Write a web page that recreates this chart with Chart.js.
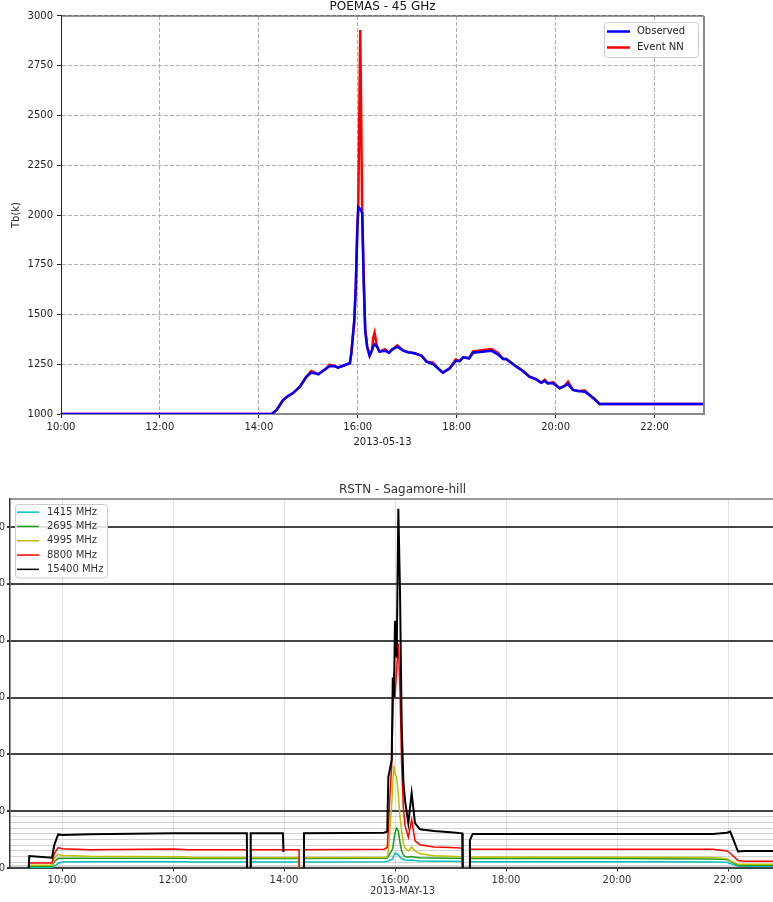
<!DOCTYPE html>
<html>
<head>
<meta charset="utf-8">
<script src="https://cdn.jsdelivr.net/npm/chart.js@4.4.0/dist/chart.umd.min.js"></script>
<style>
    html, body { margin: 0; padding: 0; background: #fff; overflow: hidden; width: 773px; height: 902px; }
    #poemas { position: absolute; left: 0; top: 0; }
    #rstn { position: absolute; left: -50px; top: 470px; }
</style>
</head>
<body>
<canvas id="poemas" width="773" height="460"></canvas>
<canvas id="rstn" width="895" height="432"></canvas>
<script>
/** DATOS POEMAS - 45 GHz (hora decimal, Tb en K) */
const poemasHoras = [10.00, 14.26, 14.36, 14.49, 14.59, 14.69, 14.83, 14.96, 15.06, 15.20, 15.37, 15.43, 15.54, 15.60,
    15.84, 15.87, 15.93, 15.96, 15.99, 16.01, 16.05, 16.09, 16.12, 16.15, 16.19, 16.24, 16.29, 16.31, 16.34, 16.39,
    16.44, 16.55, 16.63, 16.70, 16.80, 16.92, 17.02, 17.15, 17.29, 17.39, 17.52, 17.62, 17.72, 17.86, 17.98, 18.06,
    18.13, 18.25, 18.33, 18.70, 18.83, 18.94, 19.00, 19.21, 19.34, 19.47, 19.61, 19.71, 19.78, 19.84, 19.95, 20.08,
    20.18, 20.25, 20.35, 20.45, 20.59, 20.69, 20.79, 20.89, 23.00];
const observado = [1000, 1000, 1020, 1070, 1090, 1105, 1137, 1187, 1208, 1200, 1230, 1241, 1240, 1233,
    1255, 1306, 1472, 1640, 1925, 2040, 2030, 2010, 1673, 1422, 1338, 1293, 1322, 1340, 1350, 1338,
    1313, 1318, 1308, 1325, 1338, 1318, 1310, 1305, 1293, 1263, 1251, 1230, 1208, 1230, 1266, 1266,
    1285, 1280, 1308, 1318, 1300, 1276, 1276, 1238, 1216, 1188, 1174, 1157, 1166, 1154, 1154, 1129,
    1141, 1150, 1121, 1116, 1112, 1095, 1074, 1050, 1050];
const eventoNN = [1000, 1000, 1020, 1070, 1090, 1105, 1137, 1187, 1216, 1200, 1230, 1248, 1240, 1233,
    1255, 1306, 1472, 1640, 1925, 2040, 2930, 2010, 1673, 1422, 1338, 1293, 1322, 1380, 1409, 1338,
    1313, 1326, 1308, 1325, 1345, 1318, 1310, 1305, 1293, 1263, 1259, 1230, 1208, 1230, 1274, 1266,
    1285, 1280, 1314, 1326, 1308, 1276, 1276, 1238, 1216, 1188, 1174, 1157, 1172, 1154, 1160, 1129,
    1141, 1162, 1121, 1116, 1118, 1095, 1074, 1050, 1050];
const poemasTicksHora = [10, 12, 14, 16, 18, 20, 22];

/** DATOS RSTN - Sagamore-hill (hora decimal, flujo) */
const rstnHoras = [9.40, 9.41, 9.82, 9.86, 9.93, 10.00, 10.50, 12.00, 12.27, 12.28, 13.33, 13.335, 13.36, 13.39,
    13.40, 13.98, 13.99, 14.01, 14.27, 14.275, 14.31, 14.35, 14.36, 15.80, 15.86, 15.88, 15.91, 15.94, 15.96,
    15.98, 16.00, 16.03, 16.06, 16.09, 16.12, 16.15, 16.18, 16.24, 16.30, 16.36, 16.45, 16.70, 17.00, 17.21,
    17.22, 17.28, 17.34, 17.35, 17.40, 20.00, 21.73, 21.98, 22.04, 22.18, 22.30, 23.30];
const mhz1415 = [0, 10, 10, 30, 80, 105, 110, 110, 110, 105, 105, 0, null, 0,
    105, 105, 105, 105, 105, 0, null, 0, 105, 110, 120, 125, 140, 150, 170,
    220, 260, 250, 230, 190, 170, 150, 140, 135, 140, 130, 125, 120, 120, 115,
    0, null, 0, 110, 110, 110, 105, 100, 80, 35, 30, 30];
const mhz2695 = [0, 30, 30, 110, 170, 170, 170, 170, 170, 165, 165, 0, null, 0,
    165, 165, 165, 165, 165, 0, null, 0, 165, 170, 175, 200, 260, 300, 350,
    500, 620, 700, 650, 450, 300, 230, 200, 190, 200, 190, 180, 175, 170, 170,
    0, null, 0, 165, 165, 165, 160, 150, 120, 50, 50, 50];
const mhz4995 = [0, 50, 50, 170, 240, 220, 205, 200, 200, 185, 185, 0, null, 0,
    185, 185, 185, 185, 185, 0, null, 0, 185, 185, 195, 300, 700, 1100, 1500,
    1800, 1650, 1600, 1300, 900, 650, 450, 350, 300, 370, 300, 250, 215, 205, 200,
    0, null, 0, 195, 195, 190, 185, 165, 130, 65, 65, 65];
const mhz8800 = [0, 90, 90, 250, 360, 340, 320, 335, 320, 320, 320, 0, null, 0,
    320, 320, 320, 320, 320, 0, null, 0, 320, 330, 360, 700, 1300, 1800, 2650,
    3440, 3000, 3500, 3950, 3100, 1800, 1070, 750, 540, 850, 480, 410, 370, 360, 350,
    0, null, 0, 330, 330, 330, 330, 300, 260, 130, 120, 120];
const mhz15400 = [0, 210, 180, 400, 590, 580, 595, 610, 610, 610, 610, 0, null, 0,
    610, 610, 280, null, null, null, null, 0, 610, 620, 640, 1600, 1750, 1900, 3350,
    3000, 4350, 3700, 6320, 4880, 2540, 1540, 1190, 790, 1320, 790, 680, 650, 630, 610,
    0, null, 0, 490, 600, 600, 600, 620, 640, 290, 300, 300];
const rstnTicksHora = [10, 12, 14, 16, 18, 20, 22];
const rstnTicksY = [0, 15, 30, 50, 100, 200, 300, 400, 500, 600, 700, 800, 900, 1000, 2000, 3000, 4000, 5000, 6000];

const hh = v => String(v).padStart(2, '0') + ':00';
const puntos = (xs, ys) => xs.map((x, i) => ({x: x, y: ys[i]}));
const esMayor = c => c.tick && c.tick.value % 1000 === 0;

/** Plugin: bordes superior y derecho del área */
const marco = {
    id: 'marco',
    afterDatasetsDraw(chart, args, opts) {
        const {ctx, chartArea: a} = chart;
        ctx.save();
        if (opts.arriba) {
            ctx.strokeStyle = opts.arriba[0];
            ctx.lineWidth = opts.arriba[1];
            ctx.beginPath(); ctx.moveTo(a.left, a.top); ctx.lineTo(a.right, a.top); ctx.stroke();
        }
        if (opts.derecha) {
            ctx.strokeStyle = opts.derecha[0];
            ctx.lineWidth = opts.derecha[1];
            ctx.beginPath(); ctx.moveTo(a.right, a.top); ctx.lineTo(a.right, a.bottom + 1); ctx.stroke();
        }
        ctx.restore();
    }
};

/** Plugin: leyenda con caja dentro del área */
const leyendaCaja = {
    id: 'leyendaCaja',
    afterDraw(chart, args, o) {
        const {ctx, chartArea: a} = chart;
        const sets = chart.data.datasets;
        const x = o.lado === 'derecha' ? a.right - o.margen - o.ancho : a.left + o.margen;
        const y = a.top + o.margen;
        const alto = o.relleno * 2 + sets.length * o.fila;
        ctx.save();
        ctx.fillStyle = 'rgba(255,255,255,0.85)';
        ctx.strokeStyle = '#cccccc';
        ctx.lineWidth = 1;
        ctx.beginPath();
        ctx.roundRect(x + 0.5, y + 0.5, o.ancho, alto, 3);
        ctx.fill();
        ctx.stroke();
        ctx.font = '10px "DejaVu Sans"';
        ctx.textBaseline = 'middle';
        sets.forEach((ds, i) => {
            const cy = y + o.relleno + o.fila * (i + 0.5);
            ctx.strokeStyle = ds.borderColor;
            ctx.lineWidth = o.grosor || ds.borderWidth;
            ctx.beginPath();
            ctx.moveTo(x + o.inicio, cy);
            ctx.lineTo(x + o.inicio + o.linea, cy);
            ctx.stroke();
            ctx.fillStyle = o.colorTexto;
            ctx.fillText(ds.label, x + o.texto, cy);
        });
        ctx.restore();
    }
};

/** GRÁFICA SUPERIOR: POEMAS */
new Chart(document.getElementById('poemas'), {
    type: 'line',
    data: {
        datasets: [{
            label: 'Observed',
            data: puntos(poemasHoras, observado),
            borderColor: '#0000ff',
            borderWidth: 2.5,
            pointRadius: 0,
            tension: 0
        },
        {
            label: 'Event NN',
            data: puntos(poemasHoras, eventoNN),
            borderColor: '#ff0000',
            borderWidth: 2.5,
            pointRadius: 0,
            tension: 0
        }]
    },
    options: {
        responsive: false,
        animation: false,
        layout: { padding: { left: 0, right: 69, top: 0, bottom: 0 } },
        plugins: {
            legend: { display: false },
            tooltip: { enabled: false },
            title: {
                display: true,
                text: 'POEMAS - 45 GHz',
                color: '#111',
                fullSize: false,
                font: { family: '"DejaVu Sans"', size: 12, weight: 'normal' },
                padding: { top: 0, bottom: 1.6 }
            },
            marco: { arriba: ['#333', 1], derecha: ['#888', 2] },
            leyendaCaja: { lado: 'derecha', margen: 6, ancho: 94, relleno: 1.5, fila: 16,
                inicio: 3, linea: 23, texto: 33, grosor: 2.5, colorTexto: '#222' }
        },
        scales: {
            x: {
                type: 'linear',
                min: 10,
                max: 23,
                afterBuildTicks: s => { s.ticks = poemasTicksHora.map(v => ({value: v})); },
                afterFit: s => { s.height = 46; },
                ticks: { callback: v => hh(v), color: '#222', padding: 3, maxRotation: 0, autoSkip: false,
                    font: { family: '"DejaVu Sans"', size: 10 } },
                grid: { color: '#b0b0b0', lineWidth: 1, tickLength: 4, tickColor: '#222' },
                border: { color: '#888', width: 2, dash: [4, 2] },
                title: { display: true, text: '2013-05-13', color: '#222',
                    font: { family: '"DejaVu Sans"', size: 10 }, padding: { top: 0, bottom: 12 } }
            },
            y: {
                min: 1000,
                max: 3000,
                afterFit: s => { s.width = 61; },
                ticks: { stepSize: 250, color: '#222', padding: 4, callback: v => String(v),
                    font: { family: '"DejaVu Sans"', size: 10 } },
                grid: { color: '#b0b0b0', lineWidth: 1, tickLength: 4, tickColor: '#222' },
                border: { color: '#222', width: 1, dash: [4, 2] },
                title: { display: true, text: 'Tb(k)', color: '#222',
                    font: { family: '"DejaVu Sans"', size: 10 }, padding: { top: 10, bottom: 0 } }
            }
        }
    },
    plugins: [marco, leyendaCaja]
});

/** GRÁFICA INFERIOR: RSTN */
const rstnSeries = [
    ['1415 MHz', mhz1415, '#00bfbf', 1.5],
    ['2695 MHz', mhz2695, '#1a9a1a', 1.5],
    ['4995 MHz', mhz4995, '#bfbf00', 1.5],
    ['8800 MHz', mhz8800, '#ff0000', 1.5],
    ['15400 MHz', mhz15400, '#000000', 2]
];

new Chart(document.getElementById('rstn'), {
    type: 'line',
    data: {
        datasets: rstnSeries.map((s, i) => ({
            label: s[0],
            data: puntos(rstnHoras, s[1]),
            borderColor: s[2],
            borderWidth: s[3],
            pointRadius: 0,
            tension: 0,
            spanGaps: false,
            order: rstnSeries.length - i
        }))
    },
    options: {
        responsive: false,
        animation: false,
        layout: { padding: { left: 0, right: 50, top: 0, bottom: 0 } },
        plugins: {
            legend: { display: false },
            tooltip: { enabled: false },
            title: {
                display: true,
                text: 'RSTN - Sagamore-hill',
                color: '#333',
                fullSize: false,
                font: { family: '"DejaVu Sans"', size: 12, weight: 'normal' },
                padding: { top: 12.8, bottom: 1.8 }
            },
            marco: { arriba: ['#777', 1.5] },
            leyendaCaja: { lado: 'izquierda', margen: 5, ancho: 92, relleno: 1, fila: 14.3,
                inicio: 2, linea: 22, texto: 32, grosor: 1.5, colorTexto: '#333' }
        },
        scales: {
            x: {
                type: 'linear',
                min: 9.063,
                max: 23.207,
                afterBuildTicks: s => { s.ticks = rstnTicksHora.map(v => ({value: v})); },
                afterFit: s => { s.height = 34; },
                ticks: { callback: v => hh(v), color: '#333', padding: 2.5, maxRotation: 0, autoSkip: false,
                    font: { family: '"DejaVu Sans"', size: 10 } },
                grid: { color: '#e2e2e2', lineWidth: 1, tickLength: 3.5, tickColor: '#333' },
                border: { color: '#444', width: 2 },
                title: { display: true, text: '2013-MAY-13', color: '#333',
                    font: { family: '"DejaVu Sans"', size: 10 }, padding: { top: 0, bottom: 5 } }
            },
            y: {
                min: 0,
                max: 6493,
                afterBuildTicks: s => { s.ticks = rstnTicksY.map(v => ({value: v})); },
                afterFit: s => { s.width = 60; },
                ticks: { callback: v => (v % 1000 === 0 ? String(v) : ''), color: '#333', padding: 2, autoSkip: false,
                    font: { family: '"DejaVu Sans"', size: 10 } },
                grid: {
                    color: c => esMayor(c) ? '#444' : '#a8a8a8',
                    lineWidth: c => esMayor(c) ? 2 : 1,
                    tickColor: c => esMayor(c) ? '#333' : 'rgba(0,0,0,0)',
                    tickLength: 3
                },
                border: { color: '#333', width: 1.5, dash: c => esMayor(c) ? [] : [1, 1] }
            }
        }
    },
    plugins: [marco, leyendaCaja]
});
</script>
</body>
</html>
